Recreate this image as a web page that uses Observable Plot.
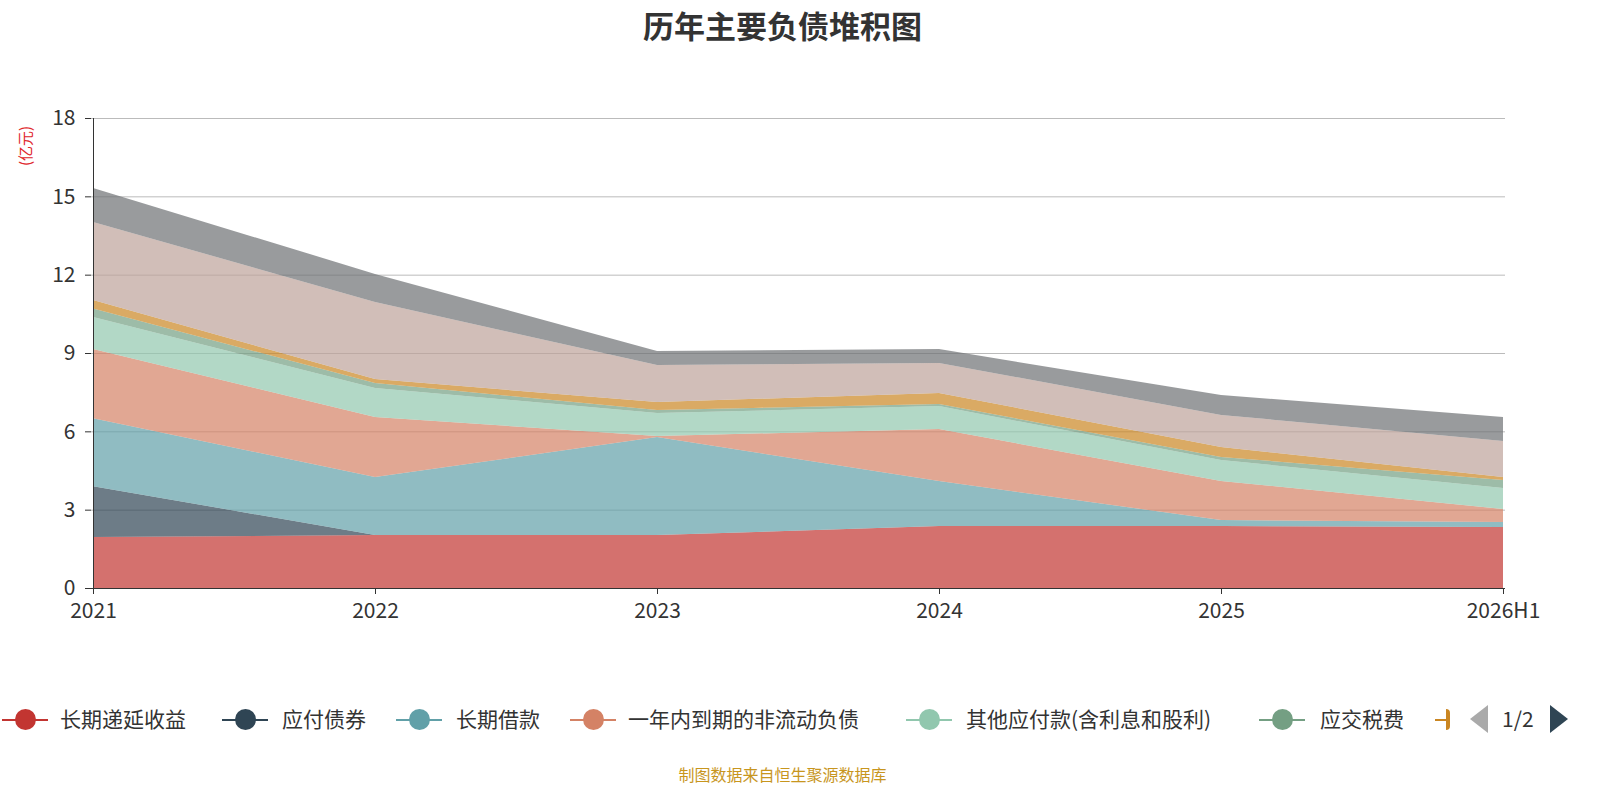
<!DOCTYPE html>
<html><head><meta charset="utf-8">
<script src="https://cdn.jsdelivr.net/npm/d3@7"></script>
<script src="https://cdn.jsdelivr.net/npm/@observablehq/plot@0.6"></script>
<style>
body{margin:0;width:1600px;height:800px;position:relative;font-family:"Noto Sans CJK SC","Noto Sans",sans-serif;background:#fff;overflow:hidden}
.abs{position:absolute;white-space:nowrap}
</style></head><body>
<div id="chart" class="abs" style="left:0;top:0"></div>
<div class="abs" style="left:0;width:1565px;top:2px;text-align:center;font-size:31px;font-weight:bold;color:#333">历年主要负债堆积图</div>
<div class="abs" style="left:14px;top:166px;transform:rotate(-90deg);transform-origin:left top;color:#e0262b;font-size:15px">(亿元)</div>
<div id="legend"></div>
<div class="abs" style="left:0;width:1565px;top:762px;text-align:center;font-size:16px;color:#c8961e">制图数据来自恒生聚源数据库</div>
<script>
const years = ["2021","2022","2023","2024","2025","2026H1"];
const seriesNames = ["长期递延收益","应付债券","长期借款","一年内到期的非流动负债","其他应付款(含利息和股利)","应交税费","长期应付款","应付账款","合同负债"];
const colors = ["#c23531","#2f4554","#61a0a8","#d48265","#91c7ae","#749f83","#ca8622","#bda29a","#6e7074"];
const v_长期递延收益 = [1.95,2.03,2.03,2.37,2.37,2.34];
const v_应付债券 = [1.95,0,0,0,0,0];
const v_长期借款 = [2.6,2.22,3.75,1.73,0.23,0.19];
const v_一年内 = [2.65,2.3,0.04,1.99,1.5,0.5];
const v_其他应付款 = [1.23,1.11,0.88,0.88,0.8,0.8];
const v_应交税费 = [0.32,0.19,0.12,0.08,0.12,0.31];
const v_长期应付款 = [0.33,0.15,0.3,0.42,0.38,0.11];
const v_应付账款 = [2.99,2.95,1.42,1.15,1.23,1.38];
const v_合同负债 = [1.3,1.08,0.54,0.53,0.76,0.92];
const values = [v_长期递延收益,v_应付债券,v_长期借款,v_一年内,v_其他应付款,v_应交税费,v_长期应付款,v_应付账款,v_合同负债];
const data = [];
seriesNames.forEach((s,i)=>years.forEach((y,j)=>data.push({series:s,year:y,value:values[i][j]})));
const plot = Plot.plot({
  width:1600,height:800,marginLeft:91,marginRight:95,marginTop:118,marginBottom:212,
  style:{fontFamily:"Noto Sans CJK SC, sans-serif",fontSize:"20px",color:"#333"},
  x:{type:"point",domain:years,padding:0,label:null},
  y:{domain:[0,18],label:null},
  color:{domain:seriesNames,range:colors},
  marks:[
    Plot.gridY([3,6,9,12,15,18],{stroke:"#bbb",strokeOpacity:1}),
    Plot.areaY(data,{x:"year",y:"value",fill:"series",fillOpacity:0.7}),
    Plot.axisX({tickSize:6,fontSize:21,tickPadding:9,label:null}),
    Plot.axisY({ticks:[0,3,6,9,12,15,18],tickSize:6,fontSize:21,tickPadding:10,label:null}),
    Plot.ruleY([0],{stroke:"#333"}),
    Plot.ruleX([years[0]],{stroke:"#333"})
  ]
});
document.getElementById("chart").appendChild(plot);
const leg = document.getElementById("legend");
const pos = [[2,60],[222,282],[396,456],[570,628],[906,966],[1259,1320]];
pos.forEach(([ix,tx],i)=>{
  leg.insertAdjacentHTML("beforeend",`<div class="abs" style="left:${ix}px;top:719px;width:46px;height:2px;background:${colors[i]}"></div>
  <div class="abs" style="left:${ix+13}px;top:709px;width:21px;height:21px;border-radius:50%;background:${colors[i]}"></div>
  <div class="abs" style="left:${tx}px;top:703px;font-size:21px;color:#333">${seriesNames[i]}</div>`);
});
leg.insertAdjacentHTML("beforeend",`<div class="abs" style="left:1435px;top:719px;width:14px;height:2px;background:${colors[6]}"></div>
<div class="abs" style="left:1446px;top:709px;width:4px;height:21px;border-radius:0 4px 4px 0;background:${colors[6]}"></div>
<div class="abs" style="left:1470px;top:705px;width:0;height:0;border-top:14px solid transparent;border-bottom:14px solid transparent;border-right:18px solid #aaa"></div>
<div class="abs" style="left:1502px;top:703px;font-size:21px;color:#333">1/2</div>
<div class="abs" style="left:1550px;top:705px;width:0;height:0;border-top:14px solid transparent;border-bottom:14px solid transparent;border-left:18px solid #2f4554"></div>`);
</script></body></html>
